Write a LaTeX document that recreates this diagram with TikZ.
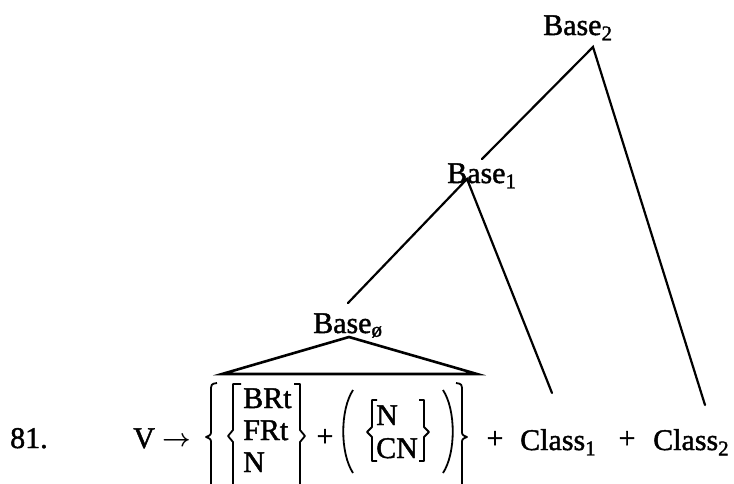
\documentclass[tikz,border=0pt]{standalone}
\usepackage{fontspec}
\usepackage{amsmath}
\setmainfont{Liberation Serif}[RawFeature={embolden=1.5}]
\newfontfamily\plainfont{Liberation Serif}[RawFeature={embolden=1.5}]
\begin{document}
\begin{tikzpicture}[x=1pt,y=-1pt,
  txt/.style={font=\plainfont\fontsize{30}{32}\selectfont, inner sep=0pt, anchor=base west},
  tree/.style={line width=2.2pt, line cap=round},
  delim/.style={line width=1.8pt, line join=round}]
\useasboundingbox (0,0) rectangle (734,483);
% labels
\node[txt] (b2) at (543,35) {Base\textsubscript{2}};
\node[txt] (b1) at (447,183) {Base\textsubscript{1}};
\node[txt] (b0) at (313,333) {Base\textsubscript{ø}};
\node[txt] (num) at (10,448) {81.};
\node[txt] (v) at (133,448) {V};
\node[txt] (arr) at (162,446) {\fontsize{34}{34}\selectfont$\boldsymbol{\rightarrow}$};
\node[txt] (brt) at (243,408) {BRt};
\node[txt] (frt) at (243,440) {FRt};
\node[txt] (n1) at (243,472) {N};
\node[txt, anchor=base] (p1) at (325,446) {+};
\node[txt] (n2) at (376,425) {N};
\node[txt] (cn) at (376,458) {CN};
\node[txt, anchor=base] (p2) at (495,448) {+};
\node[txt] (c1) at (520,450) {Class\textsubscript{1}};
\node[txt, anchor=base] (p3) at (627,448) {+};
\node[txt] (c2) at (653,450) {Class\textsubscript{2}};
% tree coordinates
\coordinate (a2) at (593,47);
\coordinate (a2l) at (482,159);
\coordinate (a2r) at (705,405);
\coordinate (a1) at (467,179);
\coordinate (a1l) at (348,303);
\coordinate (a1r) at (552,393);
\coordinate (a0) at (349,337);
\coordinate (a0l) at (222,374);
\coordinate (a0r) at (477,374);
\draw[tree] (a2l) -- (a2) -- (a2r);
\draw[tree] (a1l) -- (a1) -- (a1r);
\draw[line width=2.6pt, line join=miter] (a0) -- (a0l) -- (a0r) -- cycle;
% outer braces
\draw[delim] (217,383) .. controls (211,384) .. (211,392) -- (211,430)
  .. controls (211,435) .. (206,437) .. controls (211,439) .. (211,444) -- (211,482)
  .. controls (211,489) .. (217,490);
\draw[delim] (456,383) .. controls (462,384) .. (462,392) -- (462,430)
  .. controls (462,435) .. (467,437) .. controls (462,439) .. (462,444) -- (462,482)
  .. controls (462,489) .. (456,490);
% square braces (BRt group)
\draw[delim] (241,384) -- (233,384) -- (233,430) -- (228,436) -- (233,442) -- (233,488) -- (241,488);
\draw[delim] (294,384) -- (300,384) -- (300,430) -- (305,436) -- (300,442) -- (300,488) -- (294,488);
% parens
\draw[delim] (353,390) .. controls (340,410) and (340,453) .. (353,473);
\draw[delim] (443,390) .. controls (456,410) and (456,453) .. (443,473);
% small square braces
\draw[delim] (377,400) -- (372,400) -- (372,427) -- (367,432) -- (372,437) -- (372,461) -- (377,461);
\draw[delim] (419,400) -- (424,400) -- (424,427) -- (429,432) -- (424,437) -- (424,461) -- (419,461);
\end{tikzpicture}
\end{document}
